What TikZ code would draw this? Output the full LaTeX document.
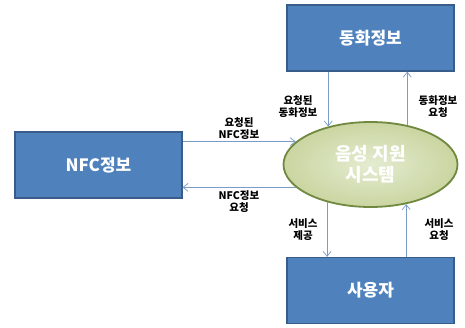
\documentclass[tikz,border=0pt]{standalone}
\usepackage{fontspec}
\newfontfamily\kr{Noto Sans CJK KR}
\usetikzlibrary{arrows.meta,shapes.geometric}
\definecolor{boxfill}{HTML}{4F81BD}
\definecolor{boxline}{HTML}{385D8A}
\definecolor{ellfill}{HTML}{D7E4BD}
\definecolor{ellline}{HTML}{71893F}
\definecolor{conn}{HTML}{7A9CC6}
\tikzset{
  ent/.style={draw=boxline, line width=1.2pt, fill=boxfill, minimum width=167pt, minimum height=66pt, inner sep=0pt, text=white, font=\kr\bfseries\fontsize{17}{17}\selectfont},
  proc/.style={ellipse, draw=ellline, line width=1.8pt, inner color=ellfill!70!white, outer color=ellfill!85!olive, minimum width=174pt, minimum height=85pt, inner sep=0pt, text=white, align=center, font=\kr\bfseries\fontsize{18}{21}\selectfont},
  flow/.style={draw=conn, line width=0.7pt, -{Straight Barb[length=5pt,width=8pt]}},
  lbl/.style={align=center, inner sep=0pt, font=\kr\bfseries\fontsize{10.5}{12}\selectfont}
}
\begin{document}
\begin{tikzpicture}[x=1pt,y=-1pt]
\useasboundingbox (0,0) rectangle (465,327);
\node[ent] (dong) at (370.5,38) {동화정보};
\node[ent] (user) at (370.5,290.5) {사용자};
\node[ent] (nfc) at (98.5,165) {NFC정보};
\node[proc] (sys) at (370.5,164.5) {음성 지원\\시스템};
% vertical connectors
\draw[flow] (dong.south -| sys.138.4) -- (sys.138.4);
\draw[flow] (sys.47.2) -- (dong.south -| sys.47.2);
\draw[flow] (sys.221.6) -- (user.north -| sys.221.6);
\draw[flow] (user.north -| sys.312.8) -- (sys.312.8);
% horizontal connectors
\draw[flow] (nfc.east |- sys.163.9) -- (sys.163.9);
\draw[flow] (sys.197) -- (nfc.east |- sys.197);
% labels
\node[lbl] (l1) at (298,106.5) {요청된\\동화정보};
\node[lbl] (l2) at (438,106.5) {동화정보\\요청};
\node[lbl] (l3) at (239,128.5) {요청된\\NFC정보};
\node[lbl] (l4) at (239,201.5) {NFC정보\\요청};
\node[lbl] (l5) at (303,230) {서비스\\제공};
\node[lbl] (l6) at (439,230) {서비스\\요청};
\end{tikzpicture}
\end{document}
